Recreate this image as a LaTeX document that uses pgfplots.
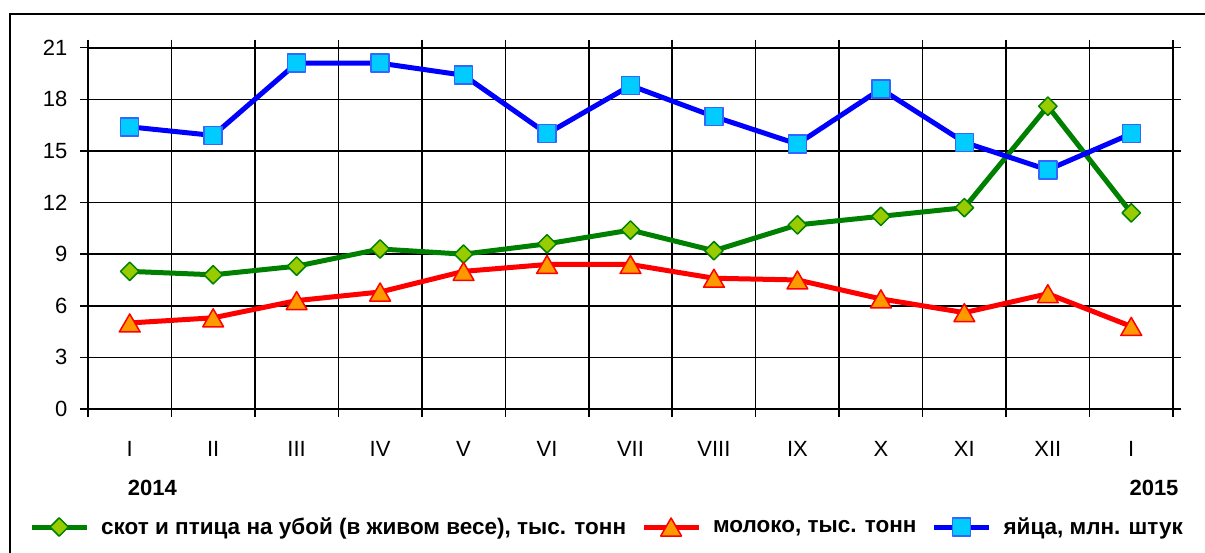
\documentclass[border=0pt]{standalone}
\usepackage{fontspec}
\setmainfont{Liberation Sans}
\usepackage{pgfplots}
\pgfplotsset{compat=1.18}
\definecolor{cgreen}{HTML}{008000}
\definecolor{cyellowgreen}{HTML}{99CC00}
\definecolor{corange}{HTML}{FF9900}
\definecolor{ccyan}{HTML}{00CCFF}
\definecolor{cblueedge}{HTML}{3366FF}
\begin{document}
\begin{tikzpicture}[x=1pt,y=1pt]
\useasboundingbox (0,0) rectangle (1205,552);
\draw[line width=1.8pt] (10,-5) -- (10,538) -- (1210,538);
\begin{axis}[
 at={(88pt,143pt)}, anchor=south west,
 scale only axis, width=1085pt, height=361.3pt,
 xmin=0.5, xmax=13.5, ymin=0, ymax=21,
 clip mode=individual,
 xtick={0.5,1.5,...,13.5}, xticklabel=\empty,
 extra x ticks={1,...,13},
 extra x tick labels={I,II,III,IV,V,VI,VII,VIII,IX,X,XI,XII,I},
 extra x tick style={major tick length=0pt, grid=none},
 ytick={0,3,...,21},
 tick align=outside,
 major tick length=8pt,
 grid=major,
 grid style={black, line width=1.6pt},
 axis line style={line width=1.8pt},
 tick style={black, line width=1.6pt},
 ticklabel style={font=\fontsize{22}{26}\selectfont},
 /pgf/number format/assume math mode=true,
 yticklabel style={xshift=-9pt},
 xticklabel style={yshift=-29pt},
 legend columns=3,
 legend cell align=left,
 legend style={draw=none, fill=none, at={(-0.0544,-0.3266)}, anchor=west, inner sep=0pt,
   font=\bfseries\fontsize{22.5}{26}\selectfont,
   /tikz/every odd column/.append style={column sep=10pt},
   /tikz/every even column/.append style={column sep=13pt}},
 legend image code/.code={\draw[mark repeat=2,mark phase=2] plot coordinates {(0pt,0pt) (27.5pt,0pt) (55pt,0pt)};},
]
\addplot[color=cgreen, line width=5pt, line join=round, mark=square*, mark size=6.5pt,
  mark options={rotate=45, fill=cyellowgreen, draw=cgreen, line width=1.5pt}]
 coordinates {(1,8.0)(2,7.8)(3,8.3)(4,9.3)(5,9.0)(6,9.6)(7,10.4)(8,9.2)(9,10.7)(10,11.2)(11,11.7)(12,17.6)(13,11.4)};
\addlegendentry{скот и птица на убой (в живом весе), тыс. тонн}
\addplot[color=red, line width=5pt, line join=round, mark=triangle*, mark size=12pt,
  mark options={yshift=-3pt, fill=corange, draw=red, line width=1.5pt}]
 coordinates {(1,5.0)(2,5.3)(3,6.3)(4,6.8)(5,8.0)(6,8.4)(7,8.4)(8,7.6)(9,7.5)(10,6.4)(11,5.6)(12,6.7)(13,4.8)};
\addlegendentry{молоко, тыс. тонн}
\addplot[color=blue, line width=5pt, line join=round, mark=square*, mark size=9pt,
  mark options={fill=ccyan, draw=cblueedge, line width=1.5pt}]
 coordinates {(1,16.4)(2,15.9)(3,20.1)(4,20.1)(5,19.4)(6,16.0)(7,18.8)(8,17.0)(9,15.4)(10,18.6)(11,15.5)(12,13.9)(13,16.0)};
\addlegendentry{яйца, млн. штук}
\node[font=\bfseries\fontsize{22}{26}\selectfont] at (axis description cs:0.0594,-0.2187) {2014};
\node[font=\bfseries\fontsize{22}{26}\selectfont] at (axis description cs:0.9825,-0.2187) {2015};
\end{axis}
\end{tikzpicture}
\end{document}
